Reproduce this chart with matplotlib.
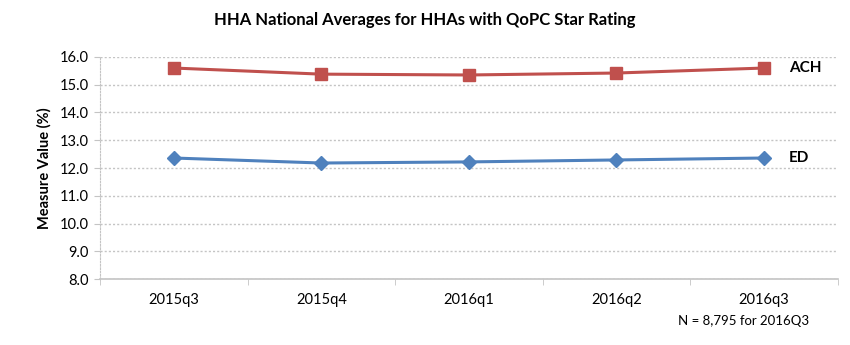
"""Line chart of HHA national averages for the ACH and ED measures."""

import matplotlib

matplotlib.use("Agg")

import matplotlib.pyplot as plt
import numpy as np
from matplotlib.ticker import FixedLocator

plt.rcParams["font.family"] = ["Lato", "DejaVu Sans"]

quarters = ["2015q3", "2015q4", "2016q1", "2016q2", "2016q3"]
ach_values = [15.60, 15.38, 15.35, 15.42, 15.60]
ed_values = [12.36, 12.18, 12.22, 12.29, 12.36]
y_ticks = [8.0, 9.0, 10.0, 11.0, 12.0, 13.0, 14.0, 15.0, 16.0]

RED = "#C0504D"
BLUE = "#4F81BD"
GRID = "#C4C4C4"

figure = plt.figure(figsize=(8.5, 3.45), dpi=100)
axis = figure.add_axes([0.1176, 0.191, 0.868, 0.644])

positions = np.arange(len(quarters))

axis.plot(positions, ach_values, color=RED, linewidth=2.2, marker="s",
          markersize=8, markerfacecolor=RED, markeredgecolor=RED, zorder=3)
axis.plot(positions, ed_values, color=BLUE, linewidth=2.2, marker="D",
          markersize=7, markerfacecolor=BLUE, markeredgecolor=BLUE, zorder=3)

axis.text(positions[-1] + 0.17, ach_values[-1], "ACH", fontsize=11,
          fontweight="bold", va="center", ha="left")
axis.text(positions[-1] + 0.17, ed_values[-1], "ED", fontsize=11,
          fontweight="bold", va="center", ha="left")

axis.set_xlim(-0.5, len(quarters) - 0.5)
axis.set_ylim(8.0, 16.0)
axis.set_yticks(y_ticks)
axis.set_yticklabels([f"{v:.1f}" for v in y_ticks])
axis.set_xticks(positions)
axis.set_xticklabels(quarters)

# Tick marks sit on the category boundaries, not under the labels.
boundaries = np.arange(-0.5, len(quarters), 1.0)
axis.xaxis.set_minor_locator(FixedLocator(boundaries))
axis.tick_params(axis="x", which="major", length=0, pad=10, labelsize=10.5)
axis.tick_params(axis="x", which="minor", length=4, color=GRID, direction="out")
axis.tick_params(axis="y", length=4, color=GRID, labelsize=10.5, pad=4)

axis.grid(axis="y", which="major", color=GRID, linestyle=(0, (1.5, 1.5)), linewidth=1)

for side in ("top", "right"):
    axis.spines[side].set_visible(False)
axis.spines["left"].set_color(GRID)
axis.spines["left"].set_linestyle((0, (1.5, 1.5)))
axis.spines["bottom"].set_color(GRID)
axis.spines["bottom"].set_linewidth(1.2)

axis.set_ylabel("Measure Value (%)", fontsize=10.5, fontweight="bold", labelpad=6)

figure.suptitle("HHA National Averages for HHAs with QoPC Star Rating",
                x=0.5, y=0.965, fontsize=12, fontweight="bold")
figure.text(0.798, 0.058, "N = 8,795 for 2016Q3", fontsize=9.5, ha="left")

figure.savefig("out.png", dpi=100)
